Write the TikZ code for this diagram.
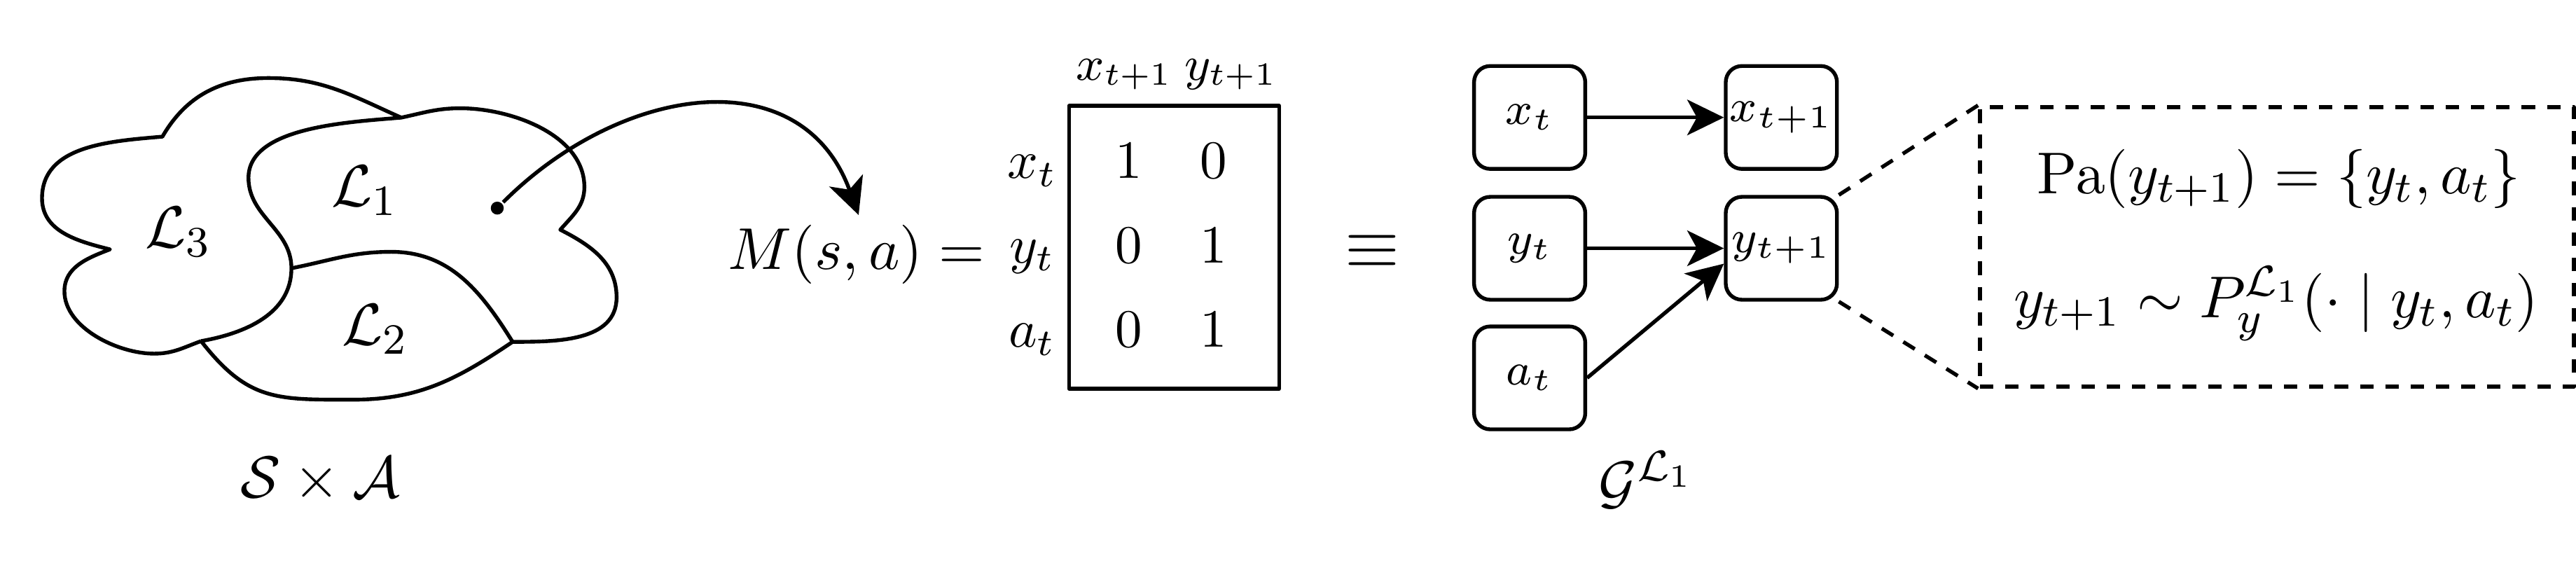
\RequirePackage{fix-cm}
\documentclass[tikz,border=0pt,11pt]{standalone}
\usetikzlibrary{arrows.meta}

\tikzset{
  var/.style={draw, rounded corners=3pt, minimum width=0.725cm, minimum height=0.671cm, inner sep=0pt, font=\fontsize{8.5}{10}\selectfont},
  arr/.style={-{Stealth[length=6.8pt,width=6.6pt,inset=1.8pt]}},
  entry/.style={anchor=base, font=\small},
  head/.style={anchor=base, font=\footnotesize},
  zoombox/.style={draw, dash pattern=on 2.5pt off 2.2pt, minimum width=3.872cm, minimum height=1.822cm},
  zoomline/.style={dash pattern=on 2.5pt off 2.2pt}
}

\begin{document}
\begin{tikzpicture}[line width=0.7pt, line join=round]
  \useasboundingbox (0,0) rectangle (16.795,3.699);

  % Corners where the regions meet
  \coordinate (A) at (2.616,2.932);
  \coordinate (B) at (1.059,2.808);
  \coordinate (C) at (0.717,2.073);
  \coordinate (D) at (1.311,1.475);
  \coordinate (E) at (1.900,1.950);
  \coordinate (F) at (3.653,2.201);
  \coordinate (G) at (3.342,1.470);

  % Outer lobes of region L3
  \draw (A) to[out=156,in=0] (1.75,3.19) to[out=180,in=60] (B)
    to[out=185,in=90] (0.274,2.406) to[out=270,in=166] (C)
    to[out=201,in=90] (0.42,1.80) to[out=270,in=180,looseness=0.85] (1.005,1.393) to[out=0,in=200] (D);

  % Region L1: border with L3, top and right lobes
  \draw (D) to[out=10,in=270] (E) to[out=90,in=270] (1.62,2.54) to[out=90,in=185,looseness=0.8] (A)
    to[out=12,in=180] (3.0,2.993) to[out=0,in=90,looseness=0.9] (3.81,2.48) to[out=270,in=49] (F)
    to[out=-27,in=90] (4.02,1.76) to[out=270,in=0] (G);

  % Region L2: top and bottom
  \draw (E) to[out=11,in=180] (2.55,2.057) to[out=0,in=122] (G);
  \draw (D) to[out=-52,in=180,looseness=1.2] (2.3,1.093) to[out=0,in=214] (G);

  % Region labels
  \node (L3) at (1.164,2.187) {$\mathcal{L}_3$};
  \node (L1) at (2.377,2.457) {$\mathcal{L}_1$};
  \node (L2) at (2.447,1.553) {$\mathcal{L}_2$};
  \node (sa) at (2.089,0.571) {$\mathcal{S} \times \mathcal{A}$};

  % Point in L1 mapped to its matrix
  \node[circle, fill, inner sep=0pt, minimum size=2.4pt] (dot) at (3.242,2.342) {};
  \coordinate (tip) at (5.598,2.297);
  \draw[arr] (dot) to[out=45,in=110,looseness=1.2] (tip);
  \node (msa) at (5.585,2.041) {$M(s,a) =$};

  % Matrix
  \draw (6.97,1.164) rectangle (8.34,3.009);
  \node[head] (hx) at (7.330,3.178) {$x_{t+1}$};
  \node[head] (hy) at (8.025,3.178) {$y_{t+1}$};
  \foreach \row/\lab/\y/\first/\second in {1/x_t/2.535/1/0, 2/y_t/1.985/0/1, 3/a_t/1.435/0/1} {
    \node[entry] (r\row) at (6.731,\y) {$\lab$};
    \node[entry] (m\row1) at (7.361,\y) {$\first$};
    \node[entry] (m\row2) at (7.913,\y) {$\second$};
  }

  \node[font=\fontsize{13}{15}\selectfont] (eqv) at (8.945,2.059) {$\equiv$};

  % Graph G^{L1}
  \node[var] (xt) at (9.973,2.933) {$x_t$};
  \node[var] (xt1) at (11.614,2.933) {$x_{t+1}$};
  \node[var] (yt) at (9.973,2.080) {$y_t$};
  \node[var] (yt1) at (11.614,2.080) {$y_{t+1}$};
  \node[var] (at) at (9.973,1.235) {$a_t$};
  \draw[arr] (xt) -- (xt1);
  \draw[arr] (yt) -- (yt1);
  \draw[arr] (at.east) -- (yt1.195);
  \node (g) at (10.735,0.571) {$\mathcal{G}^{\mathcal{L}_1}$};

  % Zoom on y_{t+1}
  \node[zoombox] (pa) at (14.845,2.089) {};
  \draw[zoomline] (yt1.north east) -- (pa.north west);
  \draw[zoomline] (yt1.south east) -- (pa.south west);
  \node (pa1) at (14.858,2.534) {$\mathrm{Pa}(y_{t+1}) = \{y_t, a_t\}$};
  \node (pa2) at (14.840,1.72) {$y_{t+1} \sim P_y^{\mathcal{L}_1}(\cdot \mid y_t, a_t)$};
\end{tikzpicture}
\end{document}
